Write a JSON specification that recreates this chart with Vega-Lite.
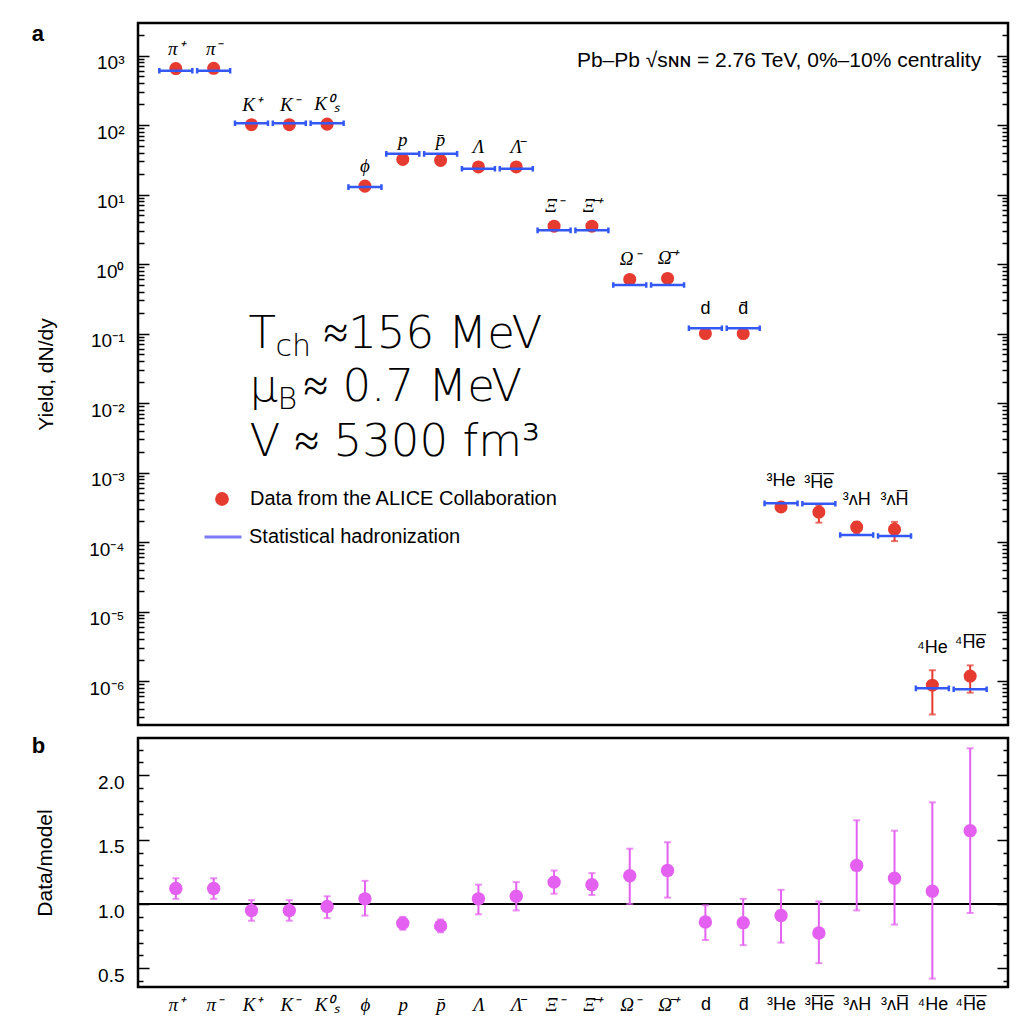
{
  "$schema": "https://vega.github.io/schema/vega-lite/v6.json",
  "background": "white",
  "padding": {"left": 30, "top": 21, "right": 20, "bottom": 5},
  "spacing": 6,
  "config": {
    "view": {"stroke": "black", "strokeWidth": 2.5},
    "font": "Liberation Sans",
    "axis": {"labelFont": "Liberation Sans", "titleFont": "Liberation Sans", "labelColor": "black", "titleColor": "black", "tickColor": "black", "titleFontWeight": "normal", "grid": false, "domain": false}
  },
  "datasets": {
    "yields": [
      {"p": "π⁺", "kind": "hadron", "data": 650, "model": 605, "lo": 620, "hi": 690, "ratio": 1.12, "rlo": 1.04, "rhi": 1.20},
      {"p": "π⁻", "kind": "hadron", "data": 655, "model": 605, "lo": 625, "hi": 690, "ratio": 1.12, "rlo": 1.04, "rhi": 1.20},
      {"p": "K⁺", "kind": "hadron", "data": 101, "model": 106, "lo": 95, "hi": 108, "ratio": 0.95, "rlo": 0.87, "rhi": 1.03},
      {"p": "K⁻", "kind": "hadron", "data": 101, "model": 106, "lo": 95, "hi": 108, "ratio": 0.95, "rlo": 0.87, "rhi": 1.03},
      {"p": "K⁰ₛ", "kind": "hadron", "data": 103, "model": 106, "lo": 97, "hi": 110, "ratio": 0.98, "rlo": 0.89, "rhi": 1.06},
      {"p": "ϕ", "kind": "hadron", "data": 13.2, "model": 12.8, "lo": 12.2, "hi": 14.3, "ratio": 1.04, "rlo": 0.91, "rhi": 1.18},
      {"p": "p", "kind": "hadron", "data": 32, "model": 38.5, "lo": 30, "hi": 34, "ratio": 0.85, "rlo": 0.80, "rhi": 0.90},
      {"p": "p\u0304", "kind": "hadron", "data": 31, "model": 38.5, "lo": 29, "hi": 33, "ratio": 0.83, "rlo": 0.78, "rhi": 0.88},
      {"p": "Λ", "kind": "hadron", "data": 24.9, "model": 23.5, "lo": 23, "hi": 27, "ratio": 1.04, "rlo": 0.92, "rhi": 1.15},
      {"p": "Λ\u0304", "kind": "hadron", "data": 24.9, "model": 23.5, "lo": 23, "hi": 27, "ratio": 1.06, "rlo": 0.95, "rhi": 1.17},
      {"p": "Ξ⁻", "kind": "hadron", "data": 3.5, "model": 3.05, "lo": 3.25, "hi": 3.75, "ratio": 1.17, "rlo": 1.08, "rhi": 1.26},
      {"p": "Ξ\u0304⁺", "kind": "hadron", "data": 3.5, "model": 3.05, "lo": 3.25, "hi": 3.75, "ratio": 1.15, "rlo": 1.07, "rhi": 1.24},
      {"p": "Ω⁻", "kind": "hadron", "data": 0.60, "model": 0.50, "lo": 0.55, "hi": 0.65, "ratio": 1.22, "rlo": 1.0, "rhi": 1.43},
      {"p": "Ω\u0304⁺", "kind": "hadron", "data": 0.62, "model": 0.50, "lo": 0.57, "hi": 0.67, "ratio": 1.26, "rlo": 1.05, "rhi": 1.48},
      {"p": "d", "kind": "nucleus", "data": 0.10, "model": 0.119, "lo": 0.094, "hi": 0.108, "ratio": 0.86, "rlo": 0.72, "rhi": 0.99},
      {"p": "d\u0304", "kind": "nucleus", "data": 0.10, "model": 0.119, "lo": 0.094, "hi": 0.108, "ratio": 0.855, "rlo": 0.68, "rhi": 1.04},
      {"p": "³He", "kind": "nucleus", "data": 0.00032, "model": 0.00036, "lo": 0.000285, "hi": 0.00036, "ratio": 0.91, "rlo": 0.70, "rhi": 1.11},
      {"p": "³H\u0305e\u0305", "kind": "nucleus", "data": 0.00027, "model": 0.000355, "lo": 0.00019, "hi": 0.00034, "ratio": 0.775, "rlo": 0.54, "rhi": 1.02},
      {"p": "³ᴧH", "kind": "nucleus", "data": 0.000164, "model": 0.000126, "lo": 0.00013, "hi": 0.000195, "ratio": 1.30, "rlo": 0.95, "rhi": 1.65},
      {"p": "³ᴧH\u0305", "kind": "nucleus", "data": 0.000152, "model": 0.000122, "lo": 0.000103, "hi": 0.000195, "ratio": 1.20, "rlo": 0.84, "rhi": 1.57},
      {"p": "⁴He", "kind": "nucleus", "data": 8.7e-7, "model": 7.85e-7, "lo": 3.3e-7, "hi": 1.43e-6, "ratio": 1.10, "rlo": 0.42, "rhi": 1.79},
      {"p": "⁴H\u0305e\u0305", "kind": "nucleus", "data": 1.18e-6, "model": 7.6e-7, "lo": 6.8e-7, "hi": 1.68e-6, "ratio": 1.57, "rlo": 0.93, "rhi": 2.21}
    ]
  },
  "vconcat": [
    {
      "width": 870,
      "height": 702,
      "data": {"name": "yields"},
      "resolve": {"axis": {"y": "independent"}},
      "layer": [
        {
          "mark": {"type": "rule", "color": "#e53b30", "strokeWidth": 2},
          "encoding": {
            "x": {"field": "p", "type": "nominal", "sort": null, "scale": {"type": "point", "padding": 1.0, "domain": ["π⁺","π⁻","K⁺","K⁻","K⁰ₛ","ϕ","p","p\u0304","Λ","Λ\u0304","Ξ⁻","Ξ\u0304⁺","Ω⁻","Ω\u0304⁺","d","d\u0304","³He","³H\u0305e\u0305","³ᴧH","³ᴧH\u0305","⁴He","⁴H\u0305e\u0305"]}, "axis": null},
            "y": {"field": "lo", "type": "quantitative", "scale": {"type": "log", "domain": [2.33e-7, 2937], "nice": false},
              "axis": {"orient": "left", "values": [1e-6, 1e-5, 1e-4, 0.001, 0.01, 0.1, 1, 10, 100, 1000], "tickSize": -11, "tickWidth": 1.5, "labelExpr": "'10' + ['⁻⁶','⁻⁵','⁻⁴','⁻³','⁻²','⁻¹','⁰','¹','²','³'][round(log(datum.value)/LN10)+6]", "labelFontSize": 19, "labelPadding": 25, "labelOffset": 7, "labelBaseline": "middle", "title": "Yield, dN/dy", "titleFontSize": 21, "titlePadding": 32}},
            "y2": {"field": "hi"}
          }
        },
        {
          "mark": {"type": "tick", "color": "#e53b30", "thickness": 2, "size": 7, "orient": "horizontal"},
          "encoding": {
            "x": {"field": "p", "type": "nominal", "sort": null, "scale": {"type": "point", "padding": 1.0}, "axis": null},
            "y": {"field": "lo", "type": "quantitative", "scale": {"type": "log", "domain": [2.33e-7, 2937], "nice": false},
              "axis": {"orient": "left", "values": [3e-7,4e-7,5e-7,6e-7,7e-7,8e-7,9e-7,2e-6,3e-6,4e-6,5e-6,6e-6,7e-6,8e-6,9e-6,2e-5,3e-5,4e-5,5e-5,6e-5,7e-5,8e-5,9e-5,2e-4,3e-4,4e-4,5e-4,6e-4,7e-4,8e-4,9e-4,0.002,0.003,0.004,0.005,0.006,0.007,0.008,0.009,0.02,0.03,0.04,0.05,0.06,0.07,0.08,0.09,0.2,0.3,0.4,0.5,0.6,0.7,0.8,0.9,2,3,4,5,6,7,8,9,20,30,40,50,60,70,80,90,200,300,400,500,600,700,800,900,2000], "tickSize": -6, "tickWidth": 1.5, "labels": false, "title": null}}
          }
        },
        {
          "mark": {"type": "tick", "color": "#e53b30", "thickness": 2, "size": 7, "orient": "horizontal"},
          "encoding": {
            "x": {"field": "p", "type": "nominal", "sort": null, "scale": {"type": "point", "padding": 1.0}, "axis": null},
            "y": {"field": "hi", "type": "quantitative", "scale": {"type": "log", "domain": [2.33e-7, 2937], "nice": false},
              "axis": {"orient": "right", "values": [1e-6, 1e-5, 1e-4, 0.001, 0.01, 0.1, 1, 10, 100, 1000], "tickSize": -11, "tickWidth": 1.5, "labels": false, "title": null}}
          }
        },
        {
          "mark": {"type": "point", "shape": "circle", "filled": true, "size": 170, "opacity": 1},
          "encoding": {
            "x": {"field": "p", "type": "nominal", "sort": null, "scale": {"type": "point", "padding": 1.0}, "axis": null},
            "y": {"field": "data", "type": "quantitative", "scale": {"type": "log", "domain": [2.33e-7, 2937], "nice": false},
              "axis": {"orient": "right", "values": [3e-7,4e-7,5e-7,6e-7,7e-7,8e-7,9e-7,2e-6,3e-6,4e-6,5e-6,6e-6,7e-6,8e-6,9e-6,2e-5,3e-5,4e-5,5e-5,6e-5,7e-5,8e-5,9e-5,2e-4,3e-4,4e-4,5e-4,6e-4,7e-4,8e-4,9e-4,0.002,0.003,0.004,0.005,0.006,0.007,0.008,0.009,0.02,0.03,0.04,0.05,0.06,0.07,0.08,0.09,0.2,0.3,0.4,0.5,0.6,0.7,0.8,0.9,2,3,4,5,6,7,8,9,20,30,40,50,60,70,80,90,200,300,400,500,600,700,800,900,2000], "tickSize": -6, "tickWidth": 1.5, "labels": false, "title": null}},
            "color": {"datum": "Data from the ALICE Collaboration", "type": "nominal",
              "scale": {"domain": ["Data from the ALICE Collaboration"], "range": ["#e53b30"]},
              "legend": {"orient": "none", "legendX": 74, "legendY": 466, "title": null, "padding": 0, "labelFontSize": 20, "labelFont": "Liberation Sans", "labelColor": "black", "labelLimit": 600, "symbolType": "circle", "symbolSize": 190, "labelOffset": 18, "symbolOpacity": 1}
            }
          }
        },
        {
          "mark": {"type": "point", "shape": "M-1,0L1,0M-1,-0.17L-1,0.17M1,-0.17L1,0.17", "filled": false, "size": 1089, "strokeWidth": 2.5, "opacity": 1, "color": "#3358f4"},
          "encoding": {
            "x": {"field": "p", "type": "nominal", "sort": null, "scale": {"type": "point", "padding": 1.0}, "axis": null},
            "y": {"field": "model", "type": "quantitative", "scale": {"type": "log", "domain": [2.33e-7, 2937], "nice": false}, "axis": null},
            "strokeDash": {"datum": "Statistical hadronization", "type": "nominal",
              "scale": {"domain": ["Statistical hadronization"], "range": [[1, 0]]},
              "legend": {"orient": "none", "legendX": 65, "legendY": 494, "title": null, "padding": 0, "labelFontSize": 20, "labelFont": "Liberation Sans", "labelColor": "black", "labelLimit": 600, "symbolType": "stroke", "symbolSize": 1369, "symbolStrokeColor": "#7b7bf5", "symbolStrokeWidth": 3, "labelOffset": 6, "symbolOpacity": 1}
            }
          }
        },
        {
          "transform": [{"filter": "datum.kind == 'hadron'"}],
          "mark": {"type": "text", "font": "Liberation Serif", "fontStyle": "italic", "fontSize": 19, "dy": -18, "baseline": "middle", "color": "black"},
          "encoding": {
            "x": {"field": "p", "type": "nominal", "sort": null, "scale": {"type": "point", "padding": 1.0}, "axis": null},
            "y": {"field": "hi", "type": "quantitative", "scale": {"type": "log", "domain": [2.33e-7, 2937], "nice": false}, "axis": null},
            "text": {"field": "p"}
          }
        },
        {
          "transform": [{"filter": "datum.kind == 'nucleus'"}],
          "mark": {"type": "text", "font": "Liberation Sans", "fontSize": 18, "dy": -22, "baseline": "middle", "color": "black"},
          "encoding": {
            "x": {"field": "p", "type": "nominal", "sort": null, "scale": {"type": "point", "padding": 1.0}, "axis": null},
            "y": {"field": "hi", "type": "quantitative", "scale": {"type": "log", "domain": [2.33e-7, 2937], "nice": false}, "axis": null},
            "text": {"field": "p"}
          }
        },
        {
          "data": {"values": [{}]},
          "mark": {"type": "text", "align": "left", "baseline": "alphabetic", "dx": -144, "fontSize": 22, "fontWeight": "bold", "font": "Liberation Sans", "color": "black"},
          "encoding": {
            "x": {"datum": "π⁺", "type": "nominal", "axis": null},
            "y": {"datum": 1618, "type": "quantitative", "axis": null},
            "text": {"value": "a"}
          }
        },
        {
          "data": {"values": [{}]},
          "mark": {"type": "text", "align": "right", "baseline": "middle", "dx": 11, "fontSize": 21, "font": "Liberation Sans", "color": "black"},
          "encoding": {
            "x": {"datum": "⁴H\u0305e\u0305", "type": "nominal", "axis": null},
            "y": {"datum": 833, "type": "quantitative", "axis": null},
            "text": {"value": "Pb–Pb √sɴɴ = 2.76 TeV, 0%–10% centrality"}
          }
        },
        {
          "data": {"values": [{}]},
          "mark": {"type": "text", "align": "left", "baseline": "alphabetic", "dx": -3, "fontSize": 45, "font": "DejaVu Sans", "fontWeight": 200, "color": "black"},
          "encoding": {"x": {"datum": "K⁺", "type": "nominal", "axis": null}, "y": {"datum": 0.0618, "type": "quantitative", "axis": null}, "text": {"value": "T"}}
        },
        {
          "data": {"values": [{}]},
          "mark": {"type": "text", "align": "left", "baseline": "alphabetic", "dx": 24, "dy": 8, "fontSize": 30, "font": "DejaVu Sans", "fontWeight": 200, "color": "black"},
          "encoding": {"x": {"datum": "K⁺", "type": "nominal", "axis": null}, "y": {"datum": 0.0618, "type": "quantitative", "axis": null}, "text": {"value": "ch"}}
        },
        {
          "data": {"values": [{}]},
          "mark": {"type": "text", "align": "left", "baseline": "alphabetic", "dx": 72, "fontSize": 45, "font": "DejaVu Sans", "fontWeight": 200, "color": "black"},
          "encoding": {"x": {"datum": "K⁺", "type": "nominal", "axis": null}, "y": {"datum": 0.0618, "type": "quantitative", "axis": null}, "text": {"value": "≈156 MeV"}}
        },
        {
          "data": {"values": [{}]},
          "mark": {"type": "text", "align": "left", "baseline": "alphabetic", "dx": -2, "fontSize": 45, "font": "DejaVu Sans", "fontWeight": 200, "color": "black"},
          "encoding": {"x": {"datum": "K⁺", "type": "nominal", "axis": null}, "y": {"datum": 0.01069, "type": "quantitative", "axis": null}, "text": {"value": "μ"}}
        },
        {
          "data": {"values": [{}]},
          "mark": {"type": "text", "align": "left", "baseline": "alphabetic", "dx": 26, "dy": 8, "fontSize": 30, "font": "DejaVu Sans", "fontWeight": 200, "color": "black"},
          "encoding": {"x": {"datum": "K⁺", "type": "nominal", "axis": null}, "y": {"datum": 0.01069, "type": "quantitative", "axis": null}, "text": {"value": "B"}}
        },
        {
          "data": {"values": [{}]},
          "mark": {"type": "text", "align": "left", "baseline": "alphabetic", "dx": 52, "fontSize": 45, "font": "DejaVu Sans", "fontWeight": 200, "color": "black"},
          "encoding": {"x": {"datum": "K⁺", "type": "nominal", "axis": null}, "y": {"datum": 0.01069, "type": "quantitative", "axis": null}, "text": {"value": "≈ 0.7 MeV"}}
        },
        {
          "data": {"values": [{}]},
          "mark": {"type": "text", "align": "left", "baseline": "alphabetic", "dx": -2, "fontSize": 45, "font": "DejaVu Sans", "fontWeight": 200, "color": "black"},
          "encoding": {"x": {"datum": "K⁺", "type": "nominal", "axis": null}, "y": {"datum": 0.001727, "type": "quantitative", "axis": null}, "text": {"value": "V ≈ 5300 fm³"}}
        }
      ]
    },
    {
      "width": 870,
      "height": 249,
      "data": {"name": "yields"},
      "resolve": {"axis": {"y": "independent"}},
      "layer": [
        {
          "mark": {"type": "rule", "color": "black", "strokeWidth": 2},
          "encoding": {"y": {"datum": 1, "type": "quantitative", "scale": {"domain": [0.355, 2.29], "nice": false, "zero": false}, "axis": null}}
        },
        {
          "mark": {"type": "rule", "color": "#e360f0", "strokeWidth": 2},
          "encoding": {
            "x": {"field": "p", "type": "nominal", "sort": null, "scale": {"type": "point", "padding": 1.0, "domain": ["π⁺","π⁻","K⁺","K⁻","K⁰ₛ","ϕ","p","p\u0304","Λ","Λ\u0304","Ξ⁻","Ξ\u0304⁺","Ω⁻","Ω\u0304⁺","d","d\u0304","³He","³H\u0305e\u0305","³ᴧH","³ᴧH\u0305","⁴He","⁴H\u0305e\u0305"]},
              "axis": {"orient": "bottom", "ticks": false, "domain": false, "labelAngle": 0, "labelPadding": 8, "title": null, "labelColor": "black", "labelBaseline": "top",
                "labelFontSize": {"condition": {"test": "indexof(datum.label,'H') >= 0 || indexof(datum.label,'d') >= 0", "value": 18}, "value": 19},
                "labelFont": {"condition": {"test": "indexof(datum.label,'H') >= 0 || indexof(datum.label,'d') >= 0", "value": "Liberation Sans"}, "value": "Liberation Serif"},
                "labelFontStyle": {"condition": {"test": "indexof(datum.label,'H') >= 0 || indexof(datum.label,'d') >= 0", "value": "normal"}, "value": "italic"}}},
            "y": {"field": "rlo", "type": "quantitative", "scale": {"domain": [0.355, 2.29], "nice": false, "zero": false},
              "axis": {"orient": "left", "values": [0.5, 1.0, 1.5, 2.0], "format": ".1f", "tickSize": -11, "tickWidth": 1.5, "labelFontSize": 19, "labelPadding": 25, "labelOffset": 7, "labelBaseline": "middle", "title": "Data/model", "titleFontSize": 21, "titlePadding": 42}},
            "y2": {"field": "rhi"}
          }
        },
        {
          "mark": {"type": "tick", "color": "#e360f0", "thickness": 2, "size": 7, "orient": "horizontal"},
          "encoding": {
            "x": {"field": "p", "type": "nominal", "sort": null, "scale": {"type": "point", "padding": 1.0}},
            "y": {"field": "rlo", "type": "quantitative", "scale": {"domain": [0.355, 2.29], "nice": false, "zero": false},
              "axis": {"orient": "left", "values": [0.4, 0.6, 0.7, 0.8, 0.9, 1.1, 1.2, 1.3, 1.4, 1.6, 1.7, 1.8, 1.9, 2.1, 2.2], "tickSize": -5, "tickWidth": 1.5, "labels": false, "title": null}}
          }
        },
        {
          "mark": {"type": "tick", "color": "#e360f0", "thickness": 2, "size": 7, "orient": "horizontal"},
          "encoding": {
            "x": {"field": "p", "type": "nominal", "sort": null, "scale": {"type": "point", "padding": 1.0}},
            "y": {"field": "rhi", "type": "quantitative", "scale": {"domain": [0.355, 2.29], "nice": false, "zero": false},
              "axis": {"orient": "right", "values": [0.5, 1.0, 1.5, 2.0], "tickSize": -11, "tickWidth": 1.5, "labels": false, "title": null}}
          }
        },
        {
          "mark": {"type": "point", "shape": "circle", "filled": true, "size": 180, "opacity": 1, "color": "#e360f0"},
          "encoding": {
            "x": {"field": "p", "type": "nominal", "sort": null, "scale": {"type": "point", "padding": 1.0}},
            "y": {"field": "ratio", "type": "quantitative", "scale": {"domain": [0.355, 2.29], "nice": false, "zero": false},
              "axis": {"orient": "right", "values": [0.4, 0.6, 0.7, 0.8, 0.9, 1.1, 1.2, 1.3, 1.4, 1.6, 1.7, 1.8, 1.9, 2.1, 2.2], "tickSize": -5, "tickWidth": 1.5, "labels": false, "title": null}}
          }
        },
        {
          "data": {"values": [{}]},
          "mark": {"type": "text", "align": "left", "baseline": "alphabetic", "dx": -144, "fontSize": 22, "fontWeight": "bold", "font": "Liberation Sans", "color": "black"},
          "encoding": {
            "x": {"datum": "π⁺", "type": "nominal"},
            "y": {"datum": 2.173, "type": "quantitative", "axis": null},
            "text": {"value": "b"}
          }
        }
      ]
    }
  ]
}
